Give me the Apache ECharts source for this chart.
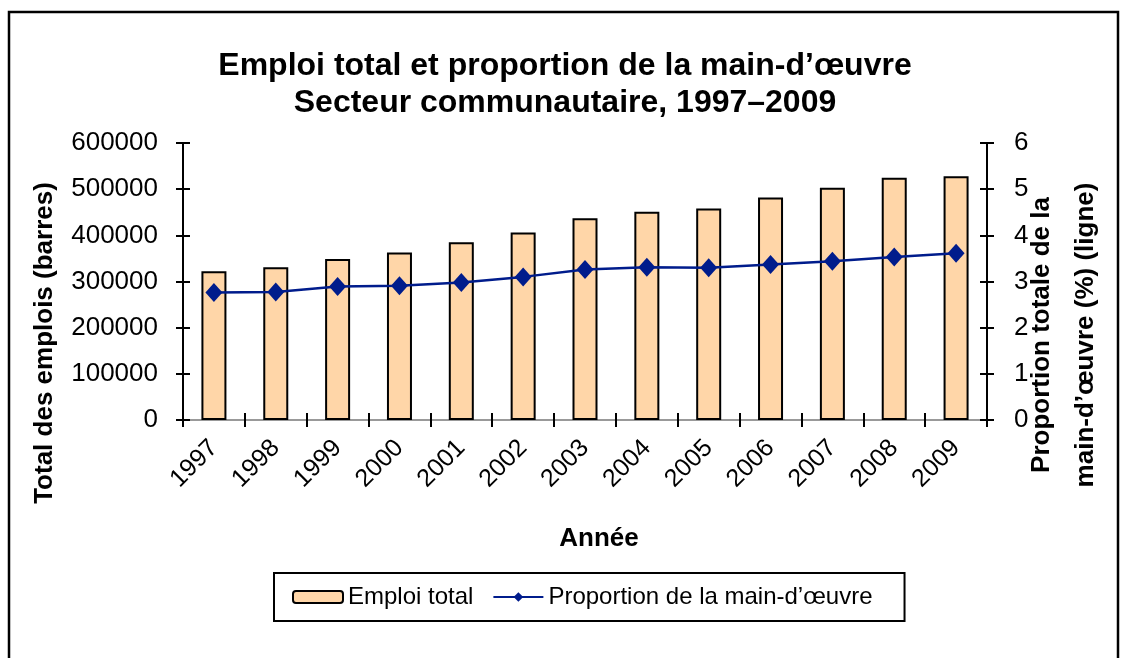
<!DOCTYPE html>
<html>
<head>
<meta charset="utf-8">
<script src="https://cdn.jsdelivr.net/npm/echarts@6/dist/echarts.min.js"></script>
<style>
  html, body { margin: 0; padding: 0; background: #fff; }
  #main { width: 1130px; height: 658px; }
</style>
</head>
<body>
<div id="main"></div>
<script>
// données
var annees = ['1997', '1998', '1999', '2000', '2001', '2002', '2003',
              '2004', '2005', '2006', '2007', '2008', '2009'];
var emploiTotal = [322000, 331000, 349000, 363000, 385000, 406000, 437000,
                   451000, 458000, 482000, 503000, 525000, 528000];
var proportion = [2.76, 2.77, 2.89, 2.91, 2.98, 3.10, 3.26,
                  3.31, 3.30, 3.37, 3.44, 3.53, 3.61];
var ticksGauche = [0, 100000, 200000, 300000, 400000, 500000, 600000];
var ticksDroite = [0, 1, 2, 3, 4, 5, 6];

var police = 'Liberation Sans, Arial, sans-serif';
var myChart = echarts.init(document.getElementById('main'));

var option = {
    backgroundColor: '#fff',
    animation: false,
    title: {
        text: 'Emploi total et proportion de la main-d\u2019\u0153uvre\nSecteur communautaire, 1997\u20132009',
        left: 'center',
        top: 43,
        textStyle: {
            color: '#000',
            fontFamily: police,
            fontWeight: 'bold',
            fontSize: 32,
            lineHeight: 37
        }
    },
    legend: {
        bottom: 37,
        left: 274,
        itemWidth: 50,
        itemHeight: 12,
        itemGap: 19,
        padding: [12, 32, 12, 18],
        borderColor: '#000',
        borderWidth: 2,
        textStyle: { color: '#000', fontFamily: police, fontSize: 24 },
        data: ['Emploi total', 'Proportion de la main-d\u2019\u0153uvre']
    },
    grid: {
        left: 183,
        right: 143,
        top: 143,
        height: 277
    },
    xAxis: [
        {
            type: 'category',
            data: annees,
            position: 'bottom',
            axisLine: { lineStyle: { color: '#000', width: 2 } },
            axisTick: { show: true, length: 7, lineStyle: { color: '#000', width: 2 } },
            axisLabel: {
                color: '#000',
                fontFamily: police,
                fontSize: 25,
                rotate: 45,
                margin: 24
            },
            name: 'Ann\u00e9e',
            nameLocation: 'middle',
            nameGap: 106,
            nameTextStyle: { color: '#000', fontFamily: police, fontSize: 26, fontWeight: 'bold', padding: [0, 0, 0, 28] }
        },
        {
            // petites marques vers l'intérieur
            type: 'category',
            data: annees,
            position: 'bottom',
            axisLine: { show: false },
            axisTick: { show: true, inside: true, length: 7, lineStyle: { color: '#000', width: 2 } },
            axisLabel: { show: false }
        },
        {
            // ligne grise du haut
            type: 'category',
            data: annees,
            position: 'top',
            axisLine: { lineStyle: { color: '#999', width: 2 } },
            axisTick: { show: false },
            axisLabel: { show: false }
        }
    ],
    yAxis: [
        {
            type: 'value',
            position: 'left',
            min: 0,
            max: 600000,
            interval: 100000,
            splitLine: { show: false },
            axisLine: { show: true, lineStyle: { color: '#000', width: 2 } },
            axisTick: { show: true, length: 7, lineStyle: { color: '#000', width: 2 } },
            axisLabel: {
                color: '#000',
                fontFamily: police,
                fontSize: 26,
                margin: 25,
                formatter: function (v) { return ticksGauche.indexOf(v) >= 0 ? String(v) : ''; }
            }
        },
        {
            type: 'value',
            position: 'right',
            min: 0,
            max: 6,
            interval: 1,
            splitLine: { show: false },
            axisLine: { show: true, lineStyle: { color: '#000', width: 2 } },
            axisTick: { show: true, length: 7, lineStyle: { color: '#000', width: 2 } },
            axisLabel: {
                color: '#000',
                fontFamily: police,
                fontSize: 26,
                margin: 27,
                formatter: function (v) { return ticksDroite.indexOf(v) >= 0 ? String(v) : ''; }
            }
        },
        {
            type: 'value',
            position: 'left',
            min: 0,
            max: 600000,
            interval: 100000,
            splitLine: { show: false },
            axisLine: { show: false },
            axisTick: { show: true, inside: true, length: 7, lineStyle: { color: '#000', width: 2 } },
            axisLabel: { show: false }
        },
        {
            type: 'value',
            position: 'right',
            min: 0,
            max: 6,
            interval: 1,
            splitLine: { show: false },
            axisLine: { show: false },
            axisTick: { show: true, inside: true, length: 7, lineStyle: { color: '#000', width: 2 } },
            axisLabel: { show: false }
        }
    ],
    graphic: [
        {
            type: 'rect',
            shape: { x: 9, y: 12, width: 1109, height: 700 },
            style: { fill: 'none', stroke: '#000', lineWidth: 2.5 },
            silent: true
        },
        {
            type: 'text',
            x: 45,
            y: 343,
            rotation: Math.PI / 2,
            style: {
                text: 'Total des emplois (barres)',
                fill: '#000',
                font: 'bold 26px ' + police,
                textAlign: 'center',
                textVerticalAlign: 'middle'
            },
            silent: true
        },
        {
            type: 'text',
            x: 1064,
            y: 335,
            rotation: Math.PI / 2,
            style: {
                text: 'Proportion totale de la\nmain-d\u2019\u0153uvre (%) (ligne)',
                fill: '#000',
                font: 'bold 26px ' + police,
                lineHeight: 44,
                textAlign: 'center',
                textVerticalAlign: 'middle'
            },
            silent: true
        }
    ],
    series: [
        {
            name: 'Emploi total',
            type: 'bar',
            xAxisIndex: 0,
            yAxisIndex: 0,
            barWidth: 25,
            data: emploiTotal,
            itemStyle: {
                color: '#FFD6A8',
                borderColor: '#000',
                borderWidth: 2
            }
        },
        {
            name: 'Proportion de la main-d\u2019\u0153uvre',
            type: 'line',
            xAxisIndex: 0,
            yAxisIndex: 1,
            data: proportion,
            symbol: 'diamond',
            symbolSize: [17, 19],
            lineStyle: { color: '#001C8C', width: 2.5 },
            itemStyle: { color: '#001C8C' }
        }
    ]
};

myChart.setOption(option);
</script>
</body>
</html>
